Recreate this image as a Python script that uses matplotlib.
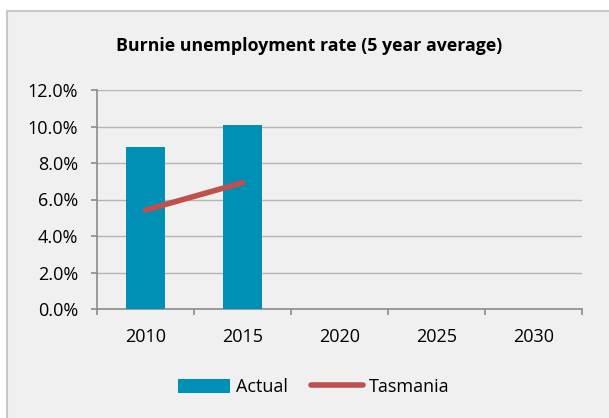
import matplotlib.pyplot as plt
from matplotlib.patches import Rectangle
from matplotlib.lines import Line2D

years = ["2010", "2015", "2020", "2025", "2030"]
actual = [8.9, 10.1]
tasmania = [5.42, 6.92]
y_ticks = [0, 2, 4, 6, 8, 10, 12]

bg = "#f0f0f0"
bar_color = "#0090b5"
line_color = "#c0504d"
grid_color = "#b4b4b4"
axis_color = "#8c8c8c"

W, H = 609, 418
plt.rcParams["font.family"] = ["Open Sans", "DejaVu Sans"]
fig = plt.figure(figsize=(W / 100, H / 100), dpi=100)
fig.patch.set_facecolor("white")

# chart panel with light border
fig.patches.append(Rectangle((6.5 / W, -0.01), 1, 1 - 10.5 / H + 0.01, transform=fig.transFigure,
                             facecolor=bg, edgecolor="#c8c8c8", linewidth=1.5, zorder=-5))

left, right = 97 / W, 582 / W
bottom, top = 1 - 309 / H, 1 - 90 / H
ax = fig.add_axes([left, bottom, right - left, top - bottom])
ax.set_zorder(2)
ax.set_facecolor(bg)

x = list(range(len(years)))
ax.bar(x[:len(actual)], actual, width=0.4, color=bar_color, zorder=3)
ax.plot(x[:len(tasmania)], tasmania, color=line_color, linewidth=4,
        solid_capstyle="round", zorder=4)

ax.set_xlim(-0.5, len(years) - 0.5)
ax.set_ylim(0, 12)
ax.set_yticks(y_ticks)
ax.set_yticklabels([f"{v:.1f}%" for v in y_ticks], fontsize=13)
ax.set_xticks(x)
ax.set_xticklabels(years, fontsize=13)
ax.set_xticks([i + 0.5 for i in range(-1, len(years))], minor=True)
ax.tick_params(axis="x", which="major", length=0, pad=14)
ax.tick_params(axis="x", which="minor", length=4, color=axis_color, width=1.2)
ax.tick_params(axis="y", length=4.5, color=axis_color, width=1.2, pad=9)
ax.grid(axis="y", color=grid_color, linewidth=1, zorder=0)
for s in ["top", "right"]:
    ax.spines[s].set_visible(False)
for s in ["left", "bottom"]:
    ax.spines[s].set_color(axis_color)
    ax.spines[s].set_linewidth(1.2)

fig.text(309.5 / W, 1 - 46 / H, "Burnie unemployment rate (5 year average)",
         ha="center", va="center", fontsize=12.8, fontweight="bold")

handles = [Rectangle((0, 0), 1, 1, facecolor=bar_color),
           Line2D([0], [0], color=line_color, linewidth=4, solid_capstyle="round")]
fig.legend(handles, ["Actual", "Tasmania"], loc="center", bbox_to_anchor=(313.5 / W, 1 - 387 / H),
           ncol=2, frameon=False, fontsize=13, handlelength=2.9, handleheight=0.8,
           handletextpad=0.3, columnspacing=1.3)

fig.savefig("out.png", dpi=100, facecolor=fig.get_facecolor())
